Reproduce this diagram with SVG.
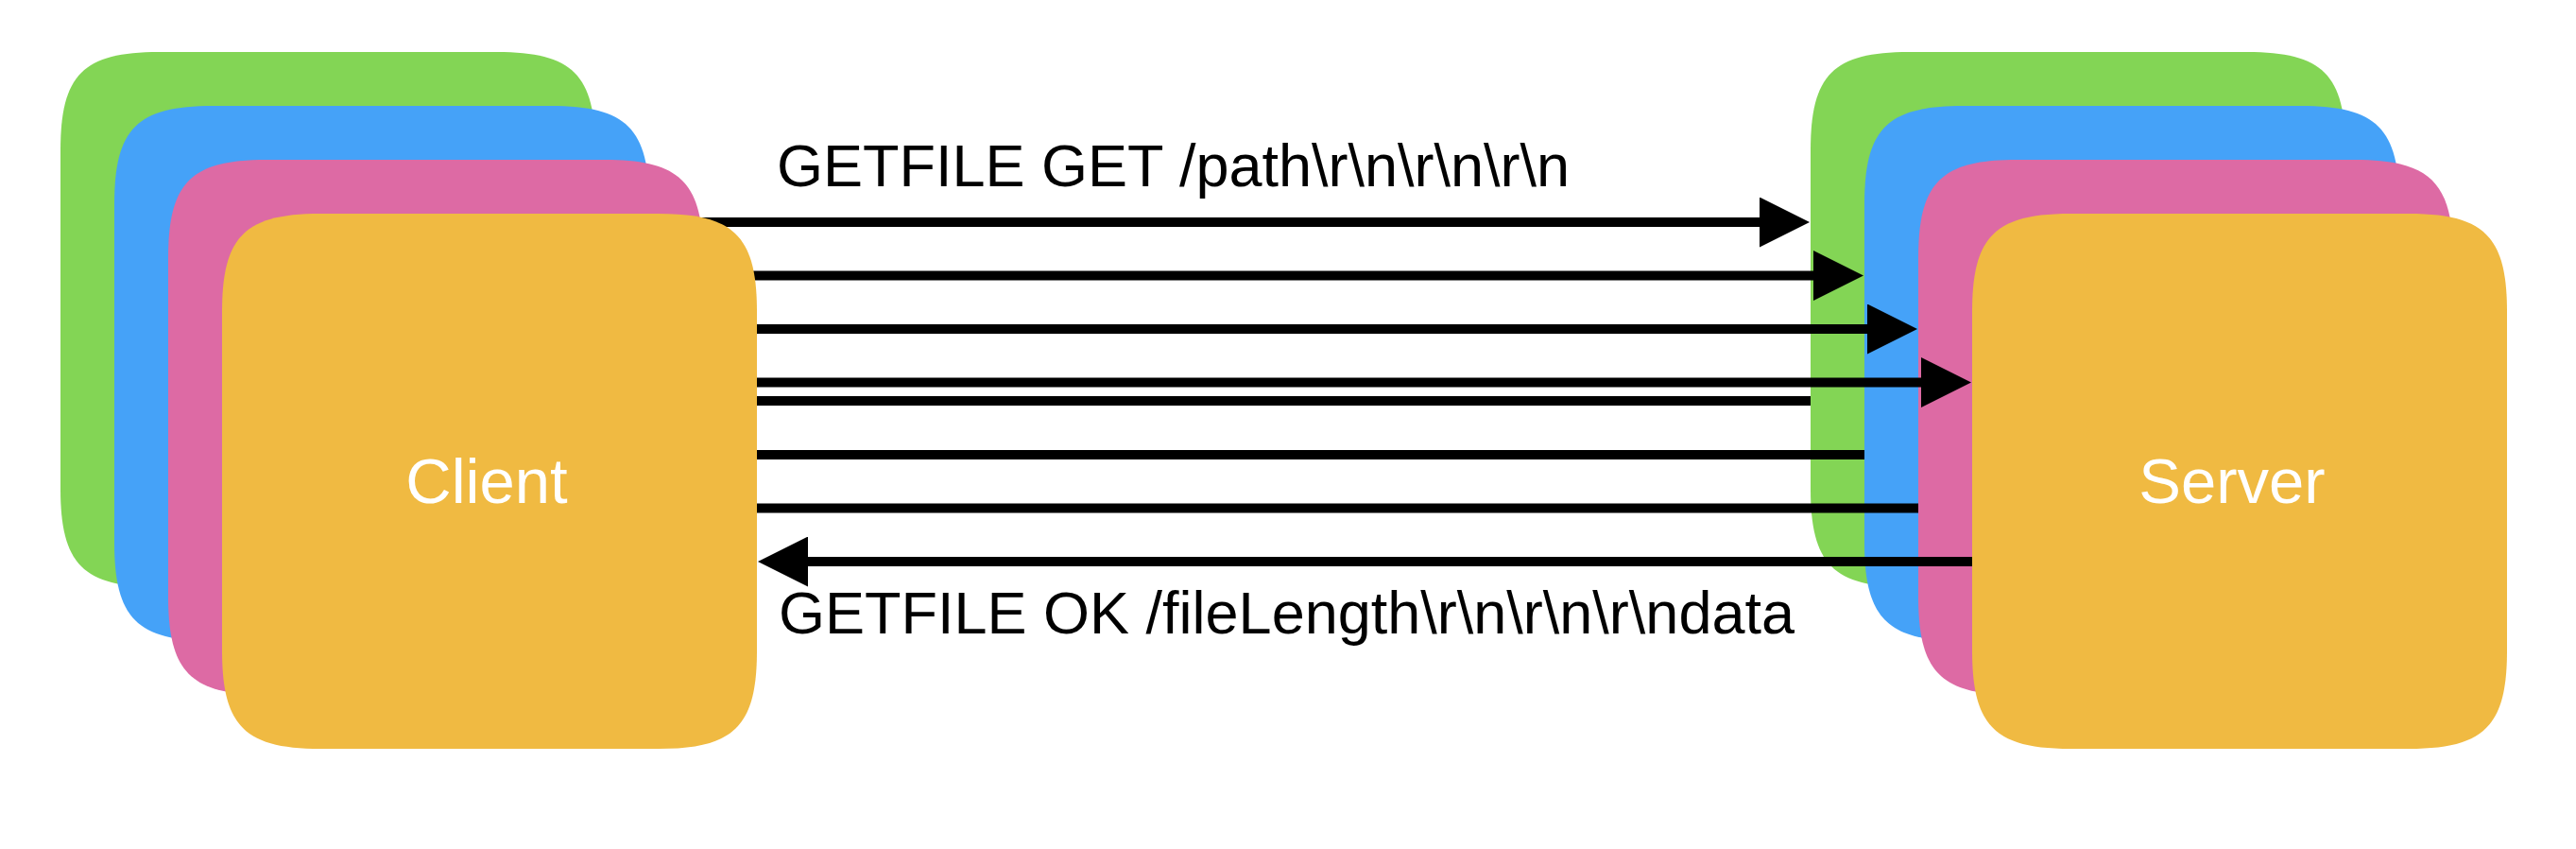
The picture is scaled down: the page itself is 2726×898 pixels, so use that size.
<svg xmlns="http://www.w3.org/2000/svg" width="2726" height="898" viewBox="0 0 2726 898">
  <style>
    .g { fill: #83D555; }
    .b { fill: #45A2F8; }
    .p { fill: #DD6AA4; }
    .o { fill: #F0BA42; }
    .lbl { font-family: "Liberation Sans", Arial, sans-serif; font-size: 67px; fill: #FFFFFF; text-anchor: middle; }
    .msg { font-family: "Liberation Sans", Arial, sans-serif; font-size: 63px; fill: #000000; }
    .ln { stroke: #000000; stroke-width: 10; fill: none; }
  </style>
  <defs>
    <path id="sq" d="M0,104 C0,24 24,0 104,0 L462,0 C542,0 566,24 566,104 L566,462 C566,542 542,566 462,566 L104,566 C24,566 0,542 0,462 Z"/>
    <marker id="ah" markerUnits="userSpaceOnUse" markerWidth="53" markerHeight="53" viewBox="0 0 53 53" refX="0" refY="26.5" orient="auto">
      <path d="M0,0 L53,26.5 L0,53 Z" fill="#000000"/>
    </marker>
  </defs>

  <g id="server">
    <use href="#sq" class="g" x="1916" y="55"/>
    <use href="#sq" class="b" x="1973" y="112"/>
    <use href="#sq" class="p" x="2030" y="169"/>
    <use href="#sq" class="o" x="2087" y="226"/>
    <text class="lbl" x="2362" y="532">Server</text>
  </g>

  <g id="client-back">
    <use href="#sq" class="g" x="64" y="55"/>
    <use href="#sq" class="b" x="121" y="112"/>
    <use href="#sq" class="p" x="178" y="169"/>
  </g>

  <g id="connectors">
    <line class="ln" x1="742" y1="235" x2="1862" y2="235" marker-end="url(#ah)"/>
    <line class="ln" x1="790" y1="291.5" x2="1919" y2="291.5" marker-end="url(#ah)"/>
    <line class="ln" x1="790" y1="348" x2="1976" y2="348" marker-end="url(#ah)"/>
    <line class="ln" x1="790" y1="404.5" x2="2033" y2="404.5" marker-end="url(#ah)"/>
    <line class="ln" x1="790" y1="424" x2="1916" y2="424"/>
    <line class="ln" x1="790" y1="481" x2="1973" y2="481"/>
    <line class="ln" x1="790" y1="537.5" x2="2030" y2="537.5"/>
    <line class="ln" x1="2087" y1="594" x2="855" y2="594" marker-end="url(#ah)"/>
    <text class="msg" x="822" y="197">GETFILE GET /path\r\n\r\n\r\n</text>
    <text class="msg" x="824" y="670">GETFILE OK /fileLength\r\n\r\n\r\ndata</text>
  </g>

  <g id="client">
    <use href="#sq" class="o" x="235" y="226"/>
    <text class="lbl" x="515" y="532">Client</text>
  </g>
</svg>
